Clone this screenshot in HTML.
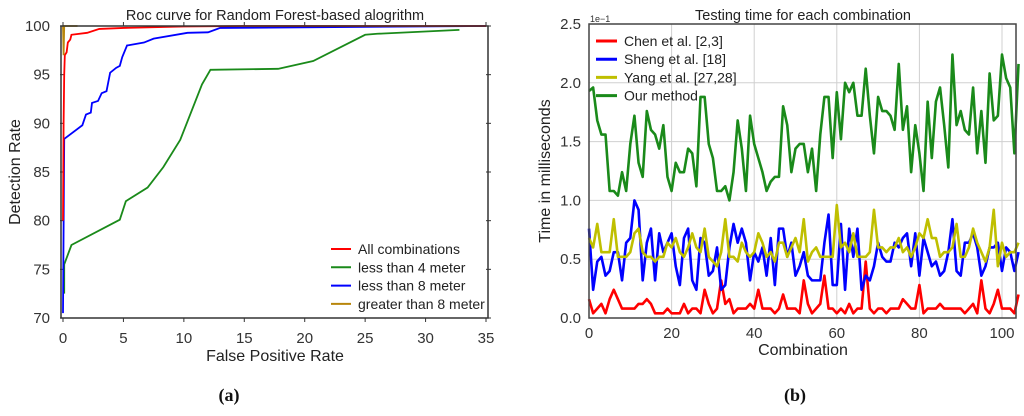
<!DOCTYPE html>
<html><head><meta charset="utf-8"><style>
body{margin:0;background:#fff;width:1024px;height:411px;overflow:hidden}
svg{font-family:"Liberation Sans",sans-serif}
</style></head><body>
<svg id="s" width="1024" height="411"></svg>
<script>
// Left chart data
const rocRed = [[0,80],[0.05,90],[0.1,95],[0.15,97],[0.3,97.3],[0.4,98.3],[0.6,98.6],[0.7,99.1],[2,99.3],[3,99.7],[5,99.8],[10,99.95],[15,100],[35,100]];
const rocGreen = [[0.1,72.5],[0.1,75.5],[0.7,77.5],[4.7,80.1],[5.2,82],[7,83.4],[8.3,85.5],[9.7,88.3],[11.5,94],[12.2,95.5],[17.8,95.6],[20.7,96.4],[25,99.1],[26,99.2],[32.8,99.6]];
const rocBlue = [[0,70.5],[0.1,88.4],[1.6,89.8],[1.9,90.9],[2.3,91.1],[2.4,92.1],[2.9,92.3],[3.2,93.1],[3.6,93.3],[3.9,95.2],[4.4,95.7],[4.7,95.9],[4.9,96.8],[5.3,98],[6.7,98.3],[7.5,98.7],[10.3,99.3],[12,99.35],[13,99.8],[35,100]];
const rocGold = [[0,100],[0.05,97],[0.1,100],[1.2,100]];
const leftXTicks = [0,5,10,15,20,25,30,35];
const leftYTicks = [70,75,80,85,90,95,100];
// Right chart data
const timeGreen = [1.93,1.96,1.68,1.56,1.56,1.08,1.08,1.04,1.24,1.08,1.48,1.72,1.32,1.20,1.76,1.60,1.56,1.44,1.64,1.20,1.08,1.32,1.24,1.24,1.44,1.40,1.12,1.88,1.88,1.48,1.36,1.08,1.08,1.12,1.00,1.24,1.68,1.44,1.08,1.72,1.48,1.36,1.24,1.08,1.16,1.20,1.20,1.80,1.64,1.24,1.44,1.48,1.48,1.24,1.44,1.08,1.56,1.88,1.88,1.36,1.92,1.52,2.00,1.92,2.00,1.72,1.72,2.12,1.72,1.40,1.88,1.76,1.76,1.72,1.60,2.16,1.60,1.80,1.24,1.64,1.40,1.08,1.84,1.36,1.84,1.96,1.64,1.28,2.24,1.64,1.76,1.60,1.56,1.96,1.40,1.76,1.32,2.08,1.68,1.72,2.24,2.04,1.96,1.40,2.16];
const timeBlue = [0.76,0.24,0.48,0.52,0.36,0.40,0.56,0.56,0.32,0.64,0.68,1.00,0.92,0.32,0.64,0.76,0.32,0.72,0.56,0.64,0.72,0.44,0.28,0.68,0.76,0.32,0.24,0.68,0.64,0.36,0.40,0.60,0.24,0.28,0.60,0.80,0.64,0.76,0.64,0.32,0.56,0.48,0.60,0.36,0.68,0.28,0.76,0.76,0.52,0.64,0.36,0.44,0.56,0.36,0.32,0.32,0.32,0.64,0.88,0.28,0.28,0.80,0.24,0.76,0.52,0.76,0.24,0.36,0.32,0.44,0.64,0.52,0.48,0.48,0.64,0.60,0.68,0.72,0.44,0.72,0.36,0.68,0.56,0.44,0.48,0.36,0.40,0.56,0.84,0.40,0.36,0.64,0.64,0.72,0.60,0.36,0.44,0.60,0.60,0.64,0.40,0.60,0.56,0.40,0.56];
const timeYellow = [0.68,0.60,0.80,0.56,0.56,0.56,0.84,0.52,0.52,0.52,0.56,0.72,0.76,0.56,0.52,0.52,0.48,0.52,0.52,0.64,0.60,0.68,0.56,0.52,0.60,0.72,0.60,0.56,0.76,0.52,0.48,0.44,0.56,0.84,0.52,0.52,0.48,0.64,0.56,0.52,0.56,0.72,0.64,0.52,0.56,0.48,0.64,0.64,0.52,0.60,0.68,0.56,0.84,0.48,0.56,0.60,0.52,0.52,0.52,0.52,0.96,0.60,0.64,0.56,0.72,0.52,0.52,0.52,0.56,0.92,0.60,0.60,0.56,0.60,0.60,0.68,0.56,0.60,0.52,0.60,0.72,0.68,0.84,0.68,0.68,0.52,0.56,0.56,0.60,0.80,0.52,0.52,0.60,0.76,0.64,0.56,0.48,0.60,0.92,0.44,0.64,0.52,0.56,0.56,0.64];
const timeRed = [0.16,0.04,0.08,0.12,0.04,0.16,0.24,0.16,0.08,0.08,0.08,0.08,0.12,0.12,0.16,0.12,0.04,0.04,0.04,0.08,0.04,0.04,0.04,0.12,0.04,0.08,0.08,0.04,0.24,0.12,0.04,0.08,0.32,0.12,0.16,0.04,0.08,0.08,0.08,0.12,0.08,0.24,0.08,0.08,0.08,0.04,0.08,0.20,0.08,0.08,0.08,0.04,0.32,0.12,0.04,0.08,0.12,0.36,0.08,0.08,0.04,0.08,0.04,0.12,0.04,0.08,0.08,0.48,0.08,0.04,0.08,0.08,0.04,0.08,0.08,0.08,0.16,0.12,0.08,0.08,0.28,0.04,0.08,0.08,0.08,0.12,0.08,0.08,0.08,0.08,0.08,0.04,0.08,0.12,0.04,0.32,0.08,0.04,0.12,0.24,0.08,0.08,0.08,0.04,0.20];
const rightXTicks = [0,20,40,60,80,100];
const rightYTicks = [0.0,0.5,1.0,1.5,2.0,2.5];

const NS='http://www.w3.org/2000/svg';
const svg=document.getElementById('s');
function mk(tag,attrs,parent,txt){const e=document.createElementNS(NS,tag);for(const k in attrs)e.setAttribute(k,attrs[k]);if(txt!==undefined)e.textContent=txt;(parent||svg).appendChild(e);return e;}

// ---- Left chart ----
const lx=v=>63+v*(486-63)/35, ly=v=>318-(v-70)*(318-26)/30;
const gL=mk('g',{});


leftYTicks.forEach(t=>{
  mk('line',{x1:60,x2:64,y1:ly(t),y2:ly(t),stroke:'#333'},gL);
  mk('line',{x1:486,x2:491,y1:ly(t),y2:ly(t),stroke:'#333'},gL);
  const e=mk('text',{x:50,y:ly(t)+5,'text-anchor':'end','font-size':15,fill:'#333'},gL,String(t));
  
  
});
leftXTicks.forEach(t=>{
  mk('line',{x1:lx(t),x2:lx(t),y1:318,y2:322,stroke:'#333'},gL);
  mk('line',{x1:lx(t),x2:lx(t),y1:22,y2:26,stroke:'#333'},gL);
  const e=mk('text',{x:lx(t),y:343,'text-anchor':'middle','font-size':15,fill:'#333'},gL,String(t));
  
  
});
function lineL(d,c,n){const p=mk('polyline',{points:d.map(q=>lx(q[0])+','+ly(q[1])).join(' '),fill:'none',stroke:c,'stroke-width':1.8},gL);
  
  }
lineL(rocGreen,'#1a8a1a','line-less-than-4-meter');
lineL(rocBlue,'#0000ff','line-less-than-8-meter');
lineL(rocRed,'#ff0000','line-all-combinations');
lineL(rocGold,'#b8860b','line-greater-than-8-meter');
const fL=mk('rect',{x:61,y:26,width:427,height:292,fill:'none',stroke:'#333','stroke-width':1.5},gL);


let t1=mk('text',{x:275,y:20,'text-anchor':'middle','font-size':14.5,fill:'#222'},gL,'Roc curve for Random Forest-based alogrithm');


let t2=mk('text',{x:275,y:361,'text-anchor':'middle','font-size':16,fill:'#222'},gL,'False Positive Rate');


let t3=mk('text',{x:20,y:172,'text-anchor':'middle','font-size':16,fill:'#222',transform:'rotate(-90 20 172)'},gL,'Detection Rate');


[['All combinations','#ff0000'],['less than 4 meter','#1a8a1a'],['less than 8 meter','#0000ff'],['greater than 8 meter','#b8860b']].forEach((l,i)=>{
  const y=249+i*18.3;
  const g=mk('g',{},gL);
  
  
  mk('line',{x1:331,x2:351,y1:y,y2:y,stroke:l[1],'stroke-width':2},g);
  mk('text',{x:358,y:y+5,'font-size':14,fill:'#222'},g,l[0]);
});
let ca=mk('text',{x:229,y:401,'text-anchor':'middle','font-size':18,'font-weight':'bold','font-family':'Liberation Serif, serif',fill:'#111'},svg,'(a)');



// ---- Right chart ----
const rx=v=>589+v*(1002-589)/100, ry=v=>318-v*(318-24)/2.5;
const gR=mk('g',{});


rightYTicks.forEach(t=>{
  mk('line',{x1:589,x2:1016,y1:ry(t),y2:ry(t),stroke:'#d0d0d0','stroke-width':1},gR);
  const e=mk('text',{x:581,y:ry(t)+5,'text-anchor':'end','font-size':15,fill:'#333'},gR,t.toFixed(1));
  
  
});
rightXTicks.forEach(t=>{
  mk('line',{x1:rx(t),x2:rx(t),y1:24,y2:318,stroke:'#d0d0d0','stroke-width':1},gR);
  const e=mk('text',{x:rx(t),y:338,'text-anchor':'middle','font-size':15,fill:'#333'},gR,String(t));
  
  
});
function lineR(d,c,n){const p=mk('polyline',{points:d.map((v,i)=>rx(i)+','+ry(v)).join(' '),fill:'none',stroke:c,'stroke-width':2.6,'stroke-linejoin':'round'},gR);
  
  }
lineR(timeRed,'#ff0000','line-chen');
lineR(timeBlue,'#0000ff','line-sheng');
lineR(timeYellow,'#bfbf00','line-yang');
lineR(timeGreen,'#1a8a1a','line-our-method');
const fR=mk('rect',{x:589,y:24,width:427,height:294,fill:'none',stroke:'#444','stroke-width':1.5},gR);


let r1=mk('text',{x:803,y:20,'text-anchor':'middle','font-size':14.5,fill:'#222'},gR,'Testing time for each combination');


let r0=mk('text',{x:590,y:22,'font-size':9,fill:'#333'},gR,'1e−1');


let r2=mk('text',{x:803,y:355,'text-anchor':'middle','font-size':16,fill:'#222'},gR,'Combination');


let r3=mk('text',{x:550,y:171,'text-anchor':'middle','font-size':16,fill:'#222',transform:'rotate(-90 550 171)'},gR,'Time in milliseconds');


[['Chen et al. [2,3]','#ff0000'],['Sheng et al. [18]','#0000ff'],['Yang et al. [27,28]','#bfbf00'],['Our method','#1a8a1a']].forEach((l,i)=>{
  const y=41+i*18.2;
  const g=mk('g',{},gR);
  
  
  mk('line',{x1:596,x2:617,y1:y,y2:y,stroke:l[1],'stroke-width':3},g);
  mk('text',{x:624,y:y+5,'font-size':14,fill:'#222'},g,l[0]);
});
let cb=mk('text',{x:795,y:401,'text-anchor':'middle','font-size':18,'font-weight':'bold','font-family':'Liberation Serif, serif',fill:'#111'},svg,'(b)');


</script>
</body></html>
